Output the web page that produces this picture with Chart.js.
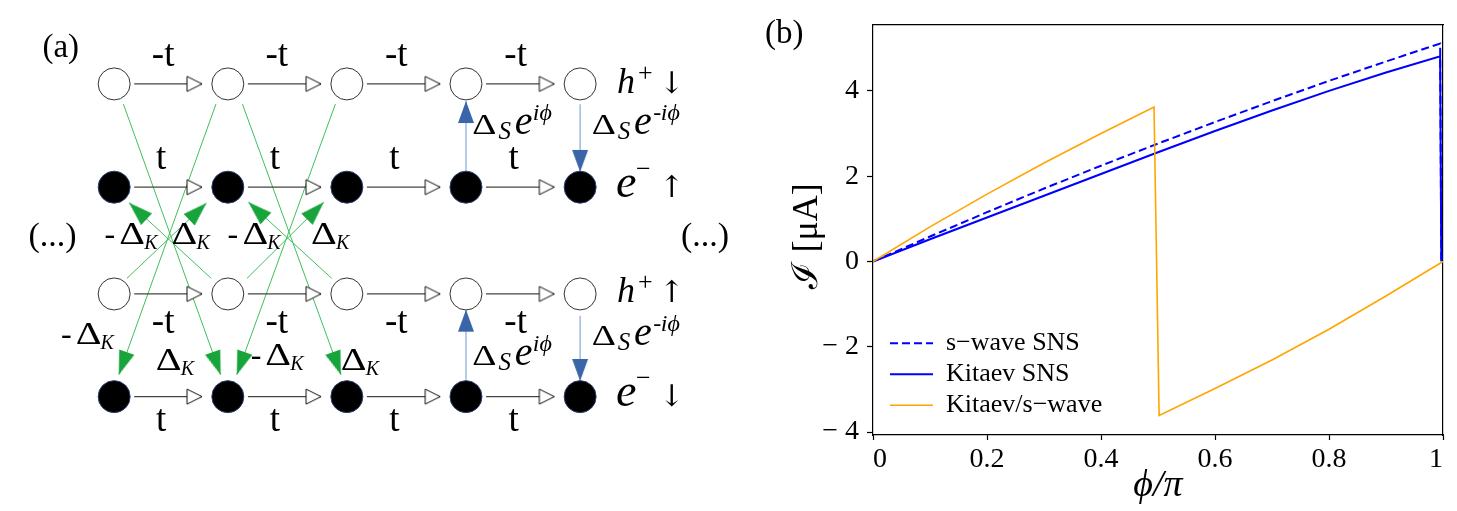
<!DOCTYPE html>
<html>
<head>
<meta charset="utf-8">
<script src="https://cdn.jsdelivr.net/npm/chart.js@4.4.1/dist/chart.umd.min.js"></script>
<style>
  html, body { margin: 0; padding: 0; background: #fff; }
  #wrap { position: relative; width: 1457px; height: 511px; overflow: hidden; }
  #diagram { position: absolute; left: 0; top: 0; width: 760px; height: 511px; }
  #current { position: absolute; left: 760px; top: 0; width: 697px; height: 511px; }
</style>
</head>
<body>
<div id="wrap">
  <canvas id="diagram" width="760" height="511"></canvas>
  <canvas id="current" width="697" height="511"></canvas>
</div>
<script>
// ---- panel (b): current-phase relation ----
const phiSNS = [0, 0.1, 0.2, 0.3, 0.4, 0.5, 0.6, 0.7, 0.8, 0.9, 0.995, 0.997];
const currentSwave = [0, 0.585, 1.155, 1.71, 2.245, 2.765, 3.27, 3.76, 4.235, 4.69, 5.11, 0];
const currentKitaev = [0, 0.52, 1.03, 1.54, 2.05, 2.56, 3.06, 3.54, 4.0, 4.43, 4.81, 0];
const phiMixed = [0, 0.1, 0.2, 0.3, 0.4, 0.493, 0.502, 0.6, 0.7, 0.8, 0.9, 1.0];
const currentMixed = [0, 0.81, 1.58, 2.31, 3.0, 3.62, -3.61, -2.98, -2.31, -1.59, -0.81, 0];
const seriesNames = ['s\u2212wave SNS', 'Kitaev SNS', 'Kitaev/s\u2212wave'];
const phiTicks = [0, 0.2, 0.4, 0.6, 0.8, 1];
const currentTicks = [-4, -2, 0, 2, 4];

// ---- panel (a): lattice diagram ----
const colX = [101.7, 220.7, 345.3, 470, 589.5];
const rowY = [71.7, 182.3, 296.7, 406.7]; // h+ down, e- up, h+ up, e- down
const openRows = [0, 2];
const filledRows = [1, 3];
const pairFrom = [[470, 165], [589.5, 93.5], [470, 388.5], [589.5, 320]];
const pairTo = [[470, 90], [589.5, 166], [470, 313.5], [589.5, 390]];
const kitaevFrom = [[111.4, 93.3], [208.3, 93.3], [236, 93.3], [333.3, 93.3],
                    [203.3, 280], [115, 280], [329.5, 280], [240.8, 280]];
const kitaevTo = [[213.2, 383.3], [106.6, 383.3], [339.1, 383.3], [230.1, 383.3],
                  [117.3, 199], [198.3, 199.3], [242.2, 198.3], [321.2, 198.3]];

const SERIF = '"Liberation Serif", "DejaVu Serif", serif';
const ARROWS = '"DejaVu Serif", serif';
Chart.defaults.font.family = SERIF;
Chart.defaults.color = '#000';

function makeHead(len, half, fill, stroke) {
  const c = document.createElement('canvas');
  c.width = Math.ceil(2 * half + 4);
  c.height = Math.ceil(2 * len + 4);
  const g = c.getContext('2d');
  const cx = c.width / 2, cy = c.height / 2;
  g.beginPath();
  g.moveTo(cx, cy);
  g.lineTo(cx + half, cy + len);
  g.lineTo(cx - half, cy + len);
  g.closePath();
  g.fillStyle = fill;
  g.fill();
  if (stroke) {
    g.strokeStyle = stroke;
    g.lineWidth = 1;
    g.stroke();
  }
  return c;
}

const openHead = makeHead(15, 7.5, '#fff', '#111');
const pairHead = makeHead(22, 8, '#3a65a7');
const kitaevHead = makeHead(24, 8, '#17a53b');

function arrow(from, to, head, color, width) {
  const deg = Math.atan2(to[0] - from[0], from[1] - to[1]) * 180 / Math.PI;
  return {
    data: [{x: from[0], y: from[1]}, {x: to[0], y: to[1]}],
    showLine: true,
    borderColor: color,
    borderWidth: width,
    pointRadius: [0, 1],
    pointHoverRadius: 0,
    pointStyle: head,
    pointRotation: deg,
    clip: false
  };
}

const nodes = rows => rows.flatMap(r => colX.map(x => ({x: x, y: rowY[r]})));

const diagramSets = [
  { data: nodes(openRows), pointRadius: 16, pointBackgroundColor: '#fff',
    pointBorderColor: '#333', pointBorderWidth: 1, showLine: false, clip: false },
  { data: nodes(filledRows), pointRadius: 16, pointBackgroundColor: '#000',
    pointBorderColor: '#2a3f6e', pointBorderWidth: 1, showLine: false, clip: false }
];
rowY.forEach(y => {
  for (let c = 0; c < colX.length - 1; c++) {
    diagramSets.push(arrow([colX[c] + 21, y], [colX[c + 1] - 27, y], openHead, '#444', 1.2));
  }
});
pairFrom.forEach((p, i) => diagramSets.push(arrow(p, pairTo[i], pairHead, '#a3bfe2', 1.6)));
kitaevFrom.forEach((p, i) => diagramSets.push(arrow(p, kitaevTo[i], kitaevHead, '#3fbf5e', 1)));

// text: [text, x, size, style, rise]  style r = roman, i = italic, w = wide roman, a = arrow
const hopX = [153, 272, 397, 522];
const diagramLabels = [
  { y: 42.5, parts: [['(a)', 26.6, 33, 'r', 0]] },
  { y: 245.5, parts: [['(...)', 12, 34, 'r', 0]] },
  { y: 245.5, parts: [['(...)', 695, 34, 'r', 0]] },
  ...hopX.map(x => ({ y: 53, align: 'center', parts: [['-t', x, 37, 'r', 0]] })),
  ...hopX.map(x => ({ y: 163, align: 'center', parts: [['t', x - 2, 37, 'r', 0]] })),
  ...hopX.map(x => ({ y: 338, align: 'center', parts: [['-t', x, 37, 'r', 0]] })),
  ...hopX.map(x => ({ y: 443, align: 'center', parts: [['t', x - 2, 37, 'r', 0]] })),
  // spin / particle labels
  { y: 81.7, parts: [['h', 628, 36, 'i', 0], ['+', 650, 26, 'r', 12], ['\u2193', 672, 30, 'a', 0]] },
  { y: 193, parts: [['e', 627, 46, 'i', 0], ['\u2212', 648, 26, 'r', 20], ['\u2191', 672, 30, 'a', 0]] },
  { y: 305, parts: [['h', 628, 36, 'i', 0], ['+', 650, 26, 'r', 12], ['\u2191', 672, 30, 'a', 0]] },
  { y: 417, parts: [['e', 627, 46, 'i', 0], ['\u2212', 648, 26, 'r', 20], ['\u2193', 672, 30, 'a', 0]] },
  // s-wave pairing
  { y: 125, parts: [['\u0394', 476.7, 30, 'w', 0], ['S', 504, 25, 'i', -5], ['e', 521, 40, 'i', 0], ['i\u03d5', 540, 24, 'i', 14]] },
  { y: 125, parts: [['\u0394', 601.7, 30, 'w', 0], ['S', 629, 25, 'i', -5], ['e', 646, 40, 'i', 0], ['-', 666, 24, 'r', 14], ['i\u03d5', 674, 24, 'i', 14]] },
  { y: 373, parts: [['\u0394', 476.7, 30, 'w', 0], ['S', 504, 25, 'i', -5], ['e', 521, 40, 'i', 0], ['i\u03d5', 540, 24, 'i', 14]] },
  { y: 351.7, parts: [['\u0394', 601.7, 30, 'w', 0], ['S', 629, 25, 'i', -5], ['e', 646, 40, 'i', 0], ['-', 666, 24, 'r', 14], ['i\u03d5', 674, 24, 'i', 14]] },
  // Kitaev pairing
  { y: 243, parts: [['-', 91.7, 32, 'r', 0], ['\u0394', 107, 32, 'w', 0], ['K', 133.3, 20, 'i', -5]] },
  { y: 243, parts: [['\u0394', 161.7, 32, 'w', 0], ['K', 188, 20, 'i', -5]] },
  { y: 243, parts: [['-', 220.4, 32, 'r', 0], ['\u0394', 236, 32, 'w', 0], ['K', 262, 20, 'i', -5]] },
  { y: 243, parts: [['\u0394', 307.7, 32, 'w', 0], ['K', 334, 20, 'i', -5]] },
  { y: 350, parts: [['-', 46, 32, 'r', 0], ['\u0394', 61.5, 32, 'w', 0], ['K', 87.5, 20, 'i', -5]] },
  { y: 378, parts: [['\u0394', 145.3, 32, 'w', 0], ['K', 171.5, 20, 'i', -5]] },
  { y: 373, parts: [['-', 244.7, 32, 'r', 0], ['\u0394', 260, 32, 'w', 0], ['K', 286, 20, 'i', -5]] },
  { y: 378, parts: [['\u0394', 339, 32, 'w', 0], ['K', 365, 20, 'i', -5]] }
];

const diagramText = {
  id: 'diagramText',
  afterDatasetsDraw(chart) {
    const {ctx, scales: {x, y}} = chart;
    ctx.save();
    ctx.fillStyle = '#000';
    ctx.textBaseline = 'alphabetic';
    diagramLabels.forEach(lab => {
      const base = y.getPixelForValue(lab.y);
      ctx.textAlign = lab.align || 'left';
      lab.parts.forEach(([text, px, size, style, rise]) => {
        const family = style === 'a' ? ARROWS : SERIF;
        ctx.font = (style === 'i' ? 'italic ' : '') + size + 'px ' + family;
        ctx.save();
        ctx.translate(x.getPixelForValue(px), base - rise);
        if (style === 'w') ctx.scale(1.25, 1);
        ctx.fillText(text, 0, 0);
        ctx.restore();
      });
    });
    ctx.restore();
  }
};

new Chart(document.getElementById('diagram'), {
  type: 'scatter',
  data: { datasets: diagramSets },
  options: {
    responsive: false,
    animation: false,
    events: [],
    layout: { padding: 0 },
    plugins: { legend: { display: false }, tooltip: { enabled: false } },
    scales: {
      x: { type: 'linear', display: false, min: 0, max: 760 },
      y: { type: 'linear', display: false, min: 0, max: 511, reverse: true }
    }
  },
  plugins: [diagramText]
});

// ---- chart (b) ----
const toPoints = (xs, ys) => xs.map((x, i) => ({x: x, y: ys[i]}));

const panelLabel = {
  id: 'panelLabel',
  afterLayout(chart) {
    // legend sits inside the plot, nudge it to the lower left corner
    const lg = chart.legend;
    lg.top += 13; lg.bottom += 13;
    lg.left += 12; lg.right += 12;
  },
  afterDraw(chart) {
    const ctx = chart.ctx;
    ctx.save();
    ctx.fillStyle = '#000';
    ctx.font = '33px ' + SERIF;
    ctx.textBaseline = 'alphabetic';
    ctx.fillText('(b)', 5, 42.5);
    ctx.restore();
  }
};

const axisLine = { display: true, color: '#000', width: 1.2 };
const tickFont = { family: SERIF, size: 28 };

new Chart(document.getElementById('current'), {
  type: 'line',
  data: {
    datasets: [
      { label: seriesNames[0], data: toPoints(phiSNS, currentSwave), borderColor: '#0000ff',
        borderWidth: 2, borderDash: [8, 4], pointRadius: 0, tension: 0, order: 2 },
      { label: seriesNames[1], data: toPoints(phiSNS, currentKitaev), borderColor: '#0000ff',
        borderWidth: 2, pointRadius: 0, tension: 0, order: 1 },
      { label: seriesNames[2], data: toPoints(phiMixed, currentMixed), borderColor: '#ffa500',
        borderWidth: 1.6, pointRadius: 0, tension: 0, order: 0 }
    ]
  },
  options: {
    responsive: false,
    animation: false,
    events: [],
    layout: { padding: { top: 10, right: 14, left: 0, bottom: 0 } },
    plugins: {
      tooltip: { enabled: false },
      legend: {
        position: 'chartArea',
        align: 'end',
        labels: {
          usePointStyle: true,
          pointStyle: 'line',
          pointStyleWidth: 43,
          padding: 5,
          color: '#000',
          font: { family: SERIF, size: 26 },
          sort: (a, b) => a.datasetIndex - b.datasetIndex,
          generateLabels: chart => Chart.defaults.plugins.legend.labels.generateLabels(chart).map(item => {
            const ds = chart.data.datasets[item.datasetIndex];
            item.lineDash = ds.borderDash || [];
            item.lineWidth = ds.borderWidth;
            item.strokeStyle = ds.borderColor;
            return item;
          })
        }
      }
    },
    scales: {
      x: {
        type: 'linear', position: 'bottom', min: 0, max: 1,
        afterFit: s => { s.height = 76; },
        afterBuildTicks: s => { s.ticks = phiTicks.map(v => ({value: v})); },
        ticks: {
          font: tickFont, color: '#000', padding: 3, align: 'inner', maxRotation: 0, autoSkip: false,
          callback: v => (v === 0 || v === 1) ? String(v) : v.toFixed(1)
        },
        grid: { drawOnChartArea: false, tickLength: 5, tickColor: '#000', tickWidth: 1.2 },
        border: axisLine,
        title: { display: true, text: '\u03d5/\u03c0', color: '#000',
                 font: { family: SERIF, size: 38, style: 'italic' }, padding: { top: 0, bottom: 2 } }
      },
      y: {
        type: 'linear', position: 'left', min: -4.07, max: 5.55,
        afterFit: s => { s.width = 113; },
        afterBuildTicks: s => { s.ticks = currentTicks.map(v => ({value: v})); },
        ticks: {
          font: tickFont, color: '#000', padding: 8,
          callback: v => v < 0 ? '\u2212 ' + Math.abs(v) : String(v)
        },
        grid: { drawOnChartArea: false, tickLength: 6, tickColor: '#000', tickWidth: 1.2 },
        border: axisLine,
        title: { display: true, text: '\u2110 [\u03bcA]\u2004', color: '#000',
                 font: { family: SERIF, size: 36 }, padding: { top: 26, bottom: 0 } }
      },
      xTop: {
        type: 'linear', position: 'top', min: 0, max: 1,
        afterFit: s => { s.height = 0; },
        ticks: { display: false }, grid: { display: false }, border: axisLine
      },
      yRight: {
        type: 'linear', position: 'right', min: 0, max: 1,
        afterFit: s => { s.width = 0; },
        ticks: { display: false }, grid: { display: false }, border: axisLine
      }
    }
  },
  plugins: [panelLabel]
});
</script>
</body>
</html>
